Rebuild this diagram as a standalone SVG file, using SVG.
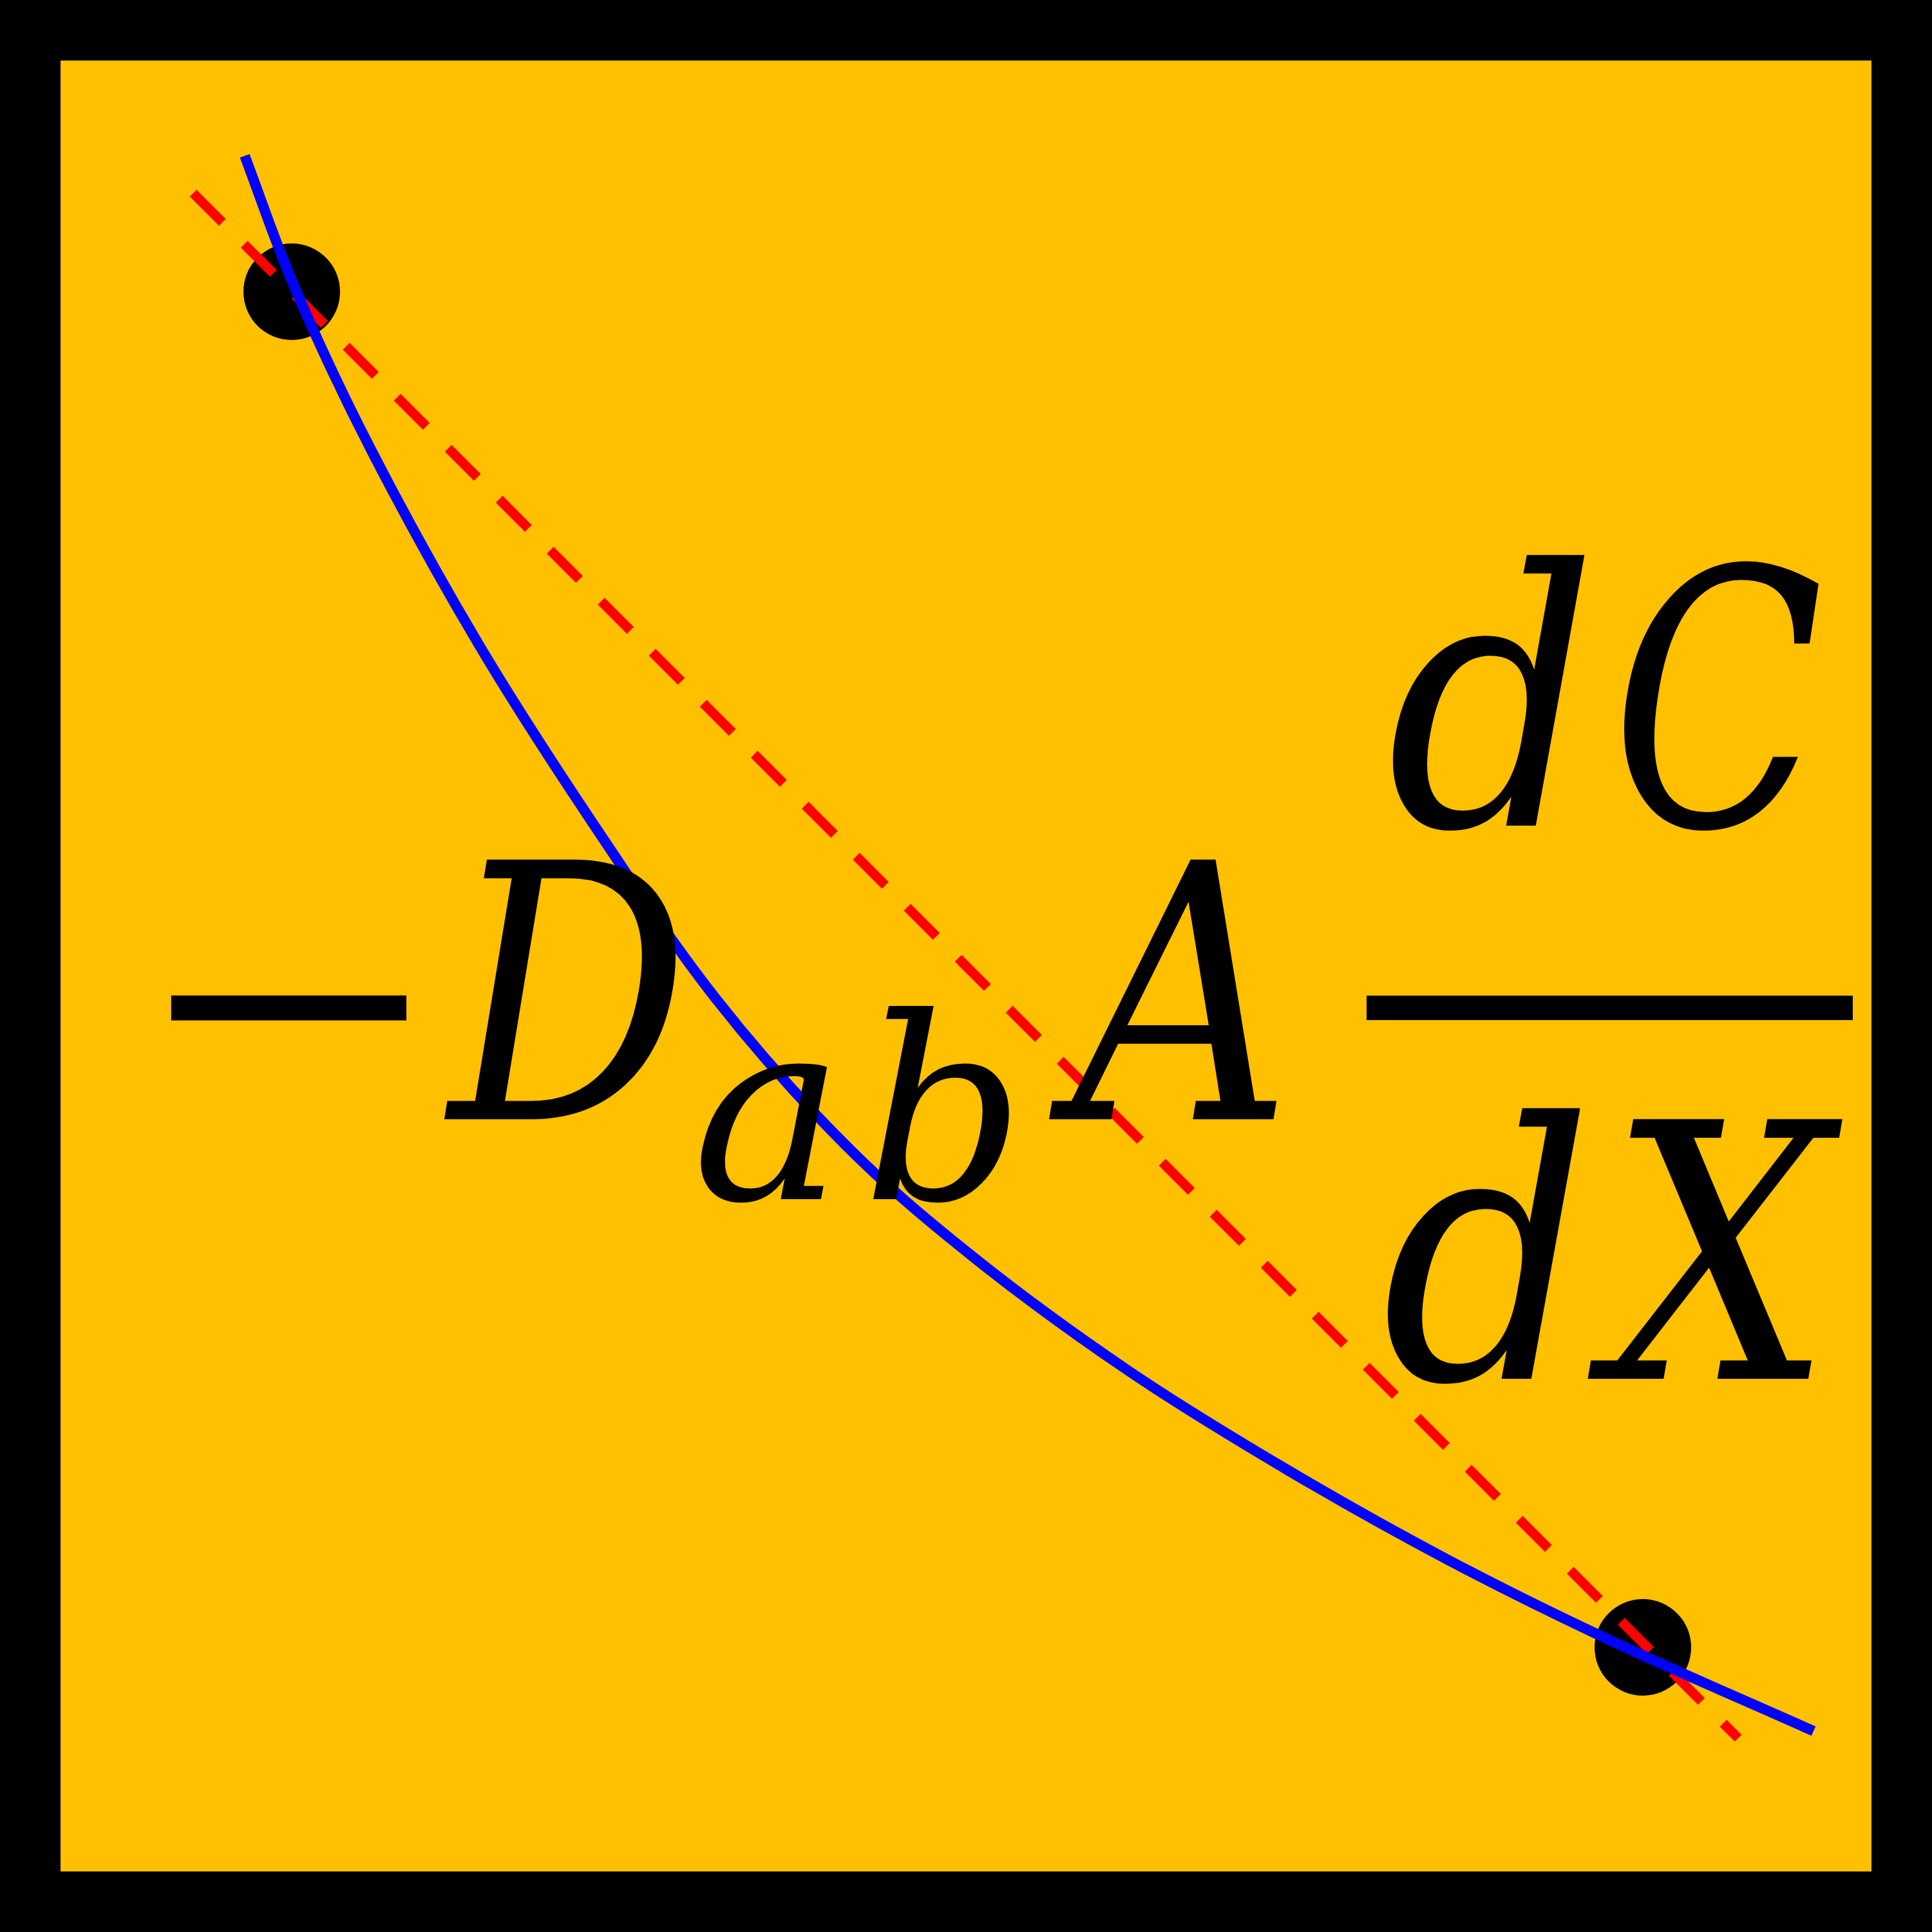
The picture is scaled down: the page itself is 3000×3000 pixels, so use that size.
<svg xmlns="http://www.w3.org/2000/svg" width="3000" height="3000" viewBox="0 0 3000 3000">
<style>
.m{font-family:"DejaVu Serif","Liberation Serif",serif;font-style:italic;fill:#000}
.big{font-size:553px}
.sub{font-size:395px}
.pt{fill:#000}
</style>
<rect id="frame" x="47" y="47" width="2906" height="2906" fill="#FFC000" stroke="#000" stroke-width="94"/>
<g id="points">
<circle id="p1" class="pt" cx="453" cy="453" r="75"/>
<circle id="p2" class="pt" cx="2551" cy="2558" r="75"/>
</g>
<g id="connectors">
<line id="chord" x1="300" y1="300" x2="2699" y2="2699" stroke="#FF0000" stroke-width="15" stroke-dasharray="64 48"/>
<path id="curve" fill="none" stroke="#0000FF" stroke-width="16" d="M380,242 C406.3,311.3 426.2,373.7 459,450 C491.8,526.3 529.7,608.3 577,700 C624.3,791.7 684.7,902 743,1000 C801.3,1098 865.7,1196.3 927,1288 C988.3,1379.7 1047.2,1468.8 1111,1550 C1174.8,1631.2 1243.7,1708.3 1310,1775 C1376.3,1841.7 1435.7,1891.3 1509,1950 C1582.3,2008.7 1668.2,2071.5 1750,2127 C1831.8,2182.5 1916.7,2233.7 2000,2283 C2083.3,2332.3 2166.7,2379 2250,2423 C2333.3,2467 2405.7,2502.8 2500,2547 C2594.3,2591.2 2710.7,2641 2816,2688"/>
</g>
<g id="formula">
<text id="minus" class="m big" transform="matrix(1.055,0,0,0.886,204,1718.7)" x="0" y="0" style="font-style:normal">−</text>
<text id="D" class="m big" transform="matrix(0.844,0,0,1,697,1738)" x="0" y="0">D</text>
<text id="ab" class="m sub" y="1862"><tspan x="1075">a</tspan><tspan x="1339">b</tspan></text>
<text id="A" class="m big" transform="matrix(0.854,0,0,1,1665,1738)" x="0" y="0">A</text>
<g id="fraction">
<text id="num-d" class="m big" transform="matrix(0.926,0,0,1,2153,1282)" x="0" y="0">d</text>
<text id="num-C" class="m big" transform="matrix(0.78,0,0,1,2502,1282)" x="0" y="0">C</text>
<rect id="fracbar" x="2122" y="1546" width="755" height="38" fill="#000"/>
<text id="den-d" class="m big" transform="matrix(0.93,0,0,1,2145,2141)" x="0" y="0">d</text>
<text id="den-X" class="m big" transform="matrix(0.883,0,0,1,2497,2141)" x="0" y="0">X</text>
</g>
</g>
</svg>
